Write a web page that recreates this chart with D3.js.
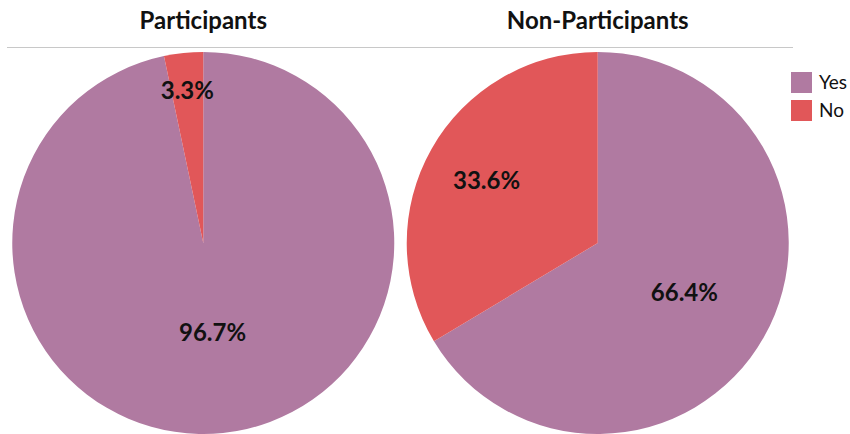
<!DOCTYPE html>
<html>
<head>
<meta charset="utf-8">
<script src="https://cdn.jsdelivr.net/npm/d3@7"></script>
<style>
  body { margin: 0; background: #fff; }
  text { font-family: Lato, "Open Sans", sans-serif; }
</style>
</head>
<body>
<div id="chart"></div>
<script>
var width = 850;
var height = 434;

// data
var groups = ["Participants", "Non-Participants"];
var answers = ["Yes", "No"];
var yesShare = [96.7, 66.4];
var noShare = [3.3, 33.6];
var colors = ["#b07aa1", "#e15759"];

var radius = 191;
var cy = 243;

var svg = d3.select("#chart")
    .append("svg")
    .attr("width", width)
    .attr("height", height);

// one band per pie, centres at 204 and 597
var xScale = d3.scaleBand().domain(groups).range([8, 793]).paddingInner(0.01);
var color = d3.scaleOrdinal().domain(answers).range(colors);

// title rule
svg.append("line")
    .attr("x1", 7).attr("x2", 793)
    .attr("y1", 47.5).attr("y2", 47.5)
    .attr("stroke", "#c8c8c8")
    .attr("stroke-width", 1);

var pie = d3.pie().sort(null).value(function(d) { return d.value; });
var arc = d3.arc().innerRadius(0).outerRadius(radius);

groups.forEach(function(g, i) {
    var cx = xScale(g) + xScale.bandwidth() / 2;
    var data = [
        {key: "Yes", value: yesShare[i]},
        {key: "No", value: noShare[i]}
    ];

    svg.append("text")
        .attr("x", cx)
        .attr("y", 29)
        .attr("text-anchor", "middle")
        .style("font-size", "24px")
        .style("font-weight", "bold")
        .style("fill", "#111")
        .text(g);

    var gPie = svg.append("g").attr("transform", "translate(" + cx + "," + cy + ")");

    gPie.selectAll("path")
        .data(pie(data))
        .enter()
        .append("path")
        .attr("d", arc)
        .attr("fill", function(d) { return color(d.data.key); });

    // smaller slices get their label further out
    gPie.selectAll("text")
        .data(pie(data))
        .enter()
        .append("text")
        .attr("transform", function(d) {
            var a = (d.startAngle + d.endAngle) / 2;
            var r = radius * Math.max(0.47, 0.82 - 0.45 * d.data.value / 100);
            return "translate(" + (Math.sin(a) * r) + "," + (-Math.cos(a) * r) + ")";
        })
        .attr("text-anchor", "middle")
        .attr("dy", "0.36em")
        .style("font-size", "24px")
        .style("font-weight", "bold")
        .style("fill", "#111")
        .text(function(d) { return d.data.value.toFixed(1) + "%"; });
});

// legend
var legend = svg.append("g").attr("transform", "translate(791,72)");
answers.forEach(function(a, i) {
    legend.append("rect")
        .attr("x", 0).attr("y", i * 28)
        .attr("width", 21).attr("height", 21)
        .attr("fill", color(a));
    legend.append("text")
        .attr("x", 28).attr("y", i * 28 + 17)
        .style("font-size", "19px")
        .style("fill", "#111")
        .text(a);
});
</script>
</body>
</html>
